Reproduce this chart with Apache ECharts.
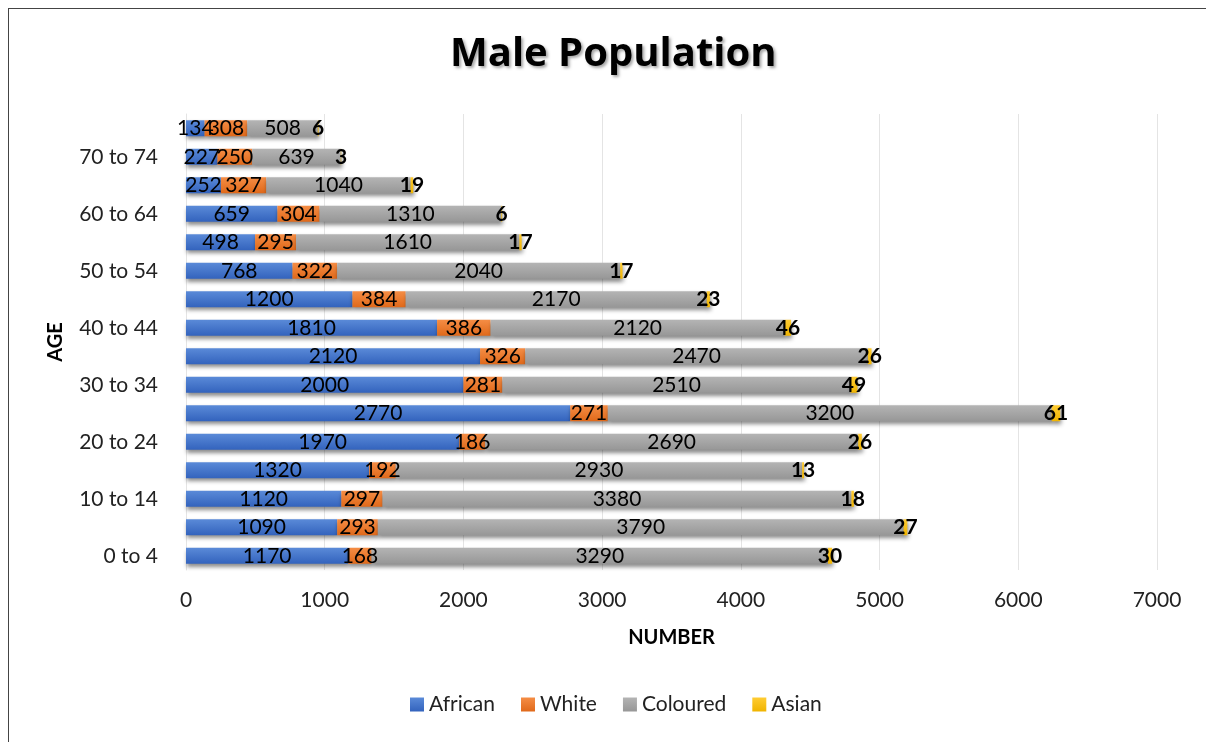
<!DOCTYPE html>
<html>
<head>
<meta charset="utf-8">
<script src="https://cdn.jsdelivr.net/npm/echarts@6/dist/echarts.min.js"></script>
<style>
  html, body { margin: 0; padding: 0; background: #fff; }
  #frame {
    position: absolute; left: 8px; top: 8px; width: 1210px; height: 740px;
    border: 1px solid #444; box-sizing: border-box;
  }
  #chart { position: absolute; left: 0; top: 0; width: 1206px; height: 742px; }
</style>
</head>
<body>
<div id="frame"></div>
<div id="chart"></div>
<script>
// age groups, bottom to top
var ageGroups = ['0 to 4', '5 to 9', '10 to 14', '15 to 19', '20 to 24', '25 to 29', '30 to 34',
  '35 to 39', '40 to 44', '45 to 49', '50 to 54', '55 to 59', '60 to 64', '65 to 69', '70 to 74', '75+'];
var african  = [1170, 1090, 1120, 1320, 1970, 2770, 2000, 2120, 1810, 1200, 768, 498, 659, 252, 227, 134];
var white    = [168, 293, 297, 192, 186, 271, 281, 326, 386, 384, 322, 295, 304, 327, 250, 308];
var coloured = [3290, 3790, 3380, 2930, 2690, 3200, 2510, 2470, 2120, 2170, 2040, 1610, 1310, 1040, 639, 508];
var asian    = [30, 27, 18, 13, 26, 61, 49, 26, 46, 23, 17, 17, 6, 19, 3, 6];

var font = 'Lato, "Open Sans", sans-serif';

function grad(top, bottom) {
  return new echarts.graphic.LinearGradient(0, 0, 0, 1, [
    { offset: 0, color: top },
    { offset: 1, color: bottom }
  ]);
}

function makeSeries(name, data, top, bottom, bold) {
  return {
    name: name,
    type: 'bar',
    stack: 'total',
    barWidth: 16,
    data: data,
    itemStyle: {
      color: grad(top, bottom),
      shadowColor: 'rgba(0,0,0,0.45)',
      shadowBlur: 4,
      shadowOffsetY: 3,
      shadowOffsetX: 1
    },
    label: {
      show: true,
      position: 'inside',
      color: '#000',
      fontSize: 21,
      fontFamily: font,
      fontWeight: bold ? 'bold' : 'normal'
    }
  };
}

var chart = echarts.init(document.getElementById('chart'));
chart.setOption({
  backgroundColor: 'transparent',
  animation: false,
  title: {
    text: 'Male Population',
    left: 445,
    top: 30,
    textStyle: {
      fontSize: 40,
      fontWeight: 'bold',
      fontFamily: '"Open Sans", Lato, sans-serif',
      color: '#000',
      textShadowColor: 'rgba(0,0,0,0.35)',
      textShadowBlur: 3,
      textShadowOffsetX: 2,
      textShadowOffsetY: 2
    }
  },
  legend: {
    bottom: 22,
    left: 405,
    itemWidth: 14,
    itemHeight: 14,
    itemGap: 26,
    icon: 'rect',
    textStyle: { fontSize: 21, fontFamily: font, color: '#222' },
    data: ['African', 'White', 'Coloured', 'Asian']
  },
  grid: { left: 186, right: 49, top: 114, bottom: 172 },
  xAxis: {
    type: 'value',
    min: 0,
    max: 7000,
    interval: 1000,
    name: 'NUMBER',
    nameLocation: 'middle',
    nameGap: 58,
    nameTextStyle: { fontSize: 20, fontWeight: 'bold', fontFamily: font, color: '#000' },
    axisLabel: { fontSize: 21, fontFamily: font, color: '#222', margin: 20, formatter: function (v) { return String(v); } },
    axisLine: { show: false },
    axisTick: { show: false },
    splitLine: { lineStyle: { color: '#e4e4e4' } }
  },
  yAxis: {
    type: 'category',
    data: ageGroups,
    name: 'AGE',
    nameLocation: 'middle',
    nameGap: 120,
    nameRotate: 90,
    nameTextStyle: { fontSize: 20, fontWeight: 'bold', fontFamily: font, color: '#000' },
    axisLabel: { interval: 1, fontSize: 21, fontFamily: font, color: '#222', margin: 28 },
    axisLine: { lineStyle: { color: '#e4e4e4' } },
    axisTick: { show: false }
  },
  series: [
    makeSeries('African', african, '#5a8ad8', '#3363bd', false),
    makeSeries('White', white, '#f58d45', '#e0691a', false),
    makeSeries('Coloured', coloured, '#b4b4b4', '#979797', false),
    makeSeries('Asian', asian, '#ffcc33', '#f0b400', true)
  ]
});
</script>
</body>
</html>
